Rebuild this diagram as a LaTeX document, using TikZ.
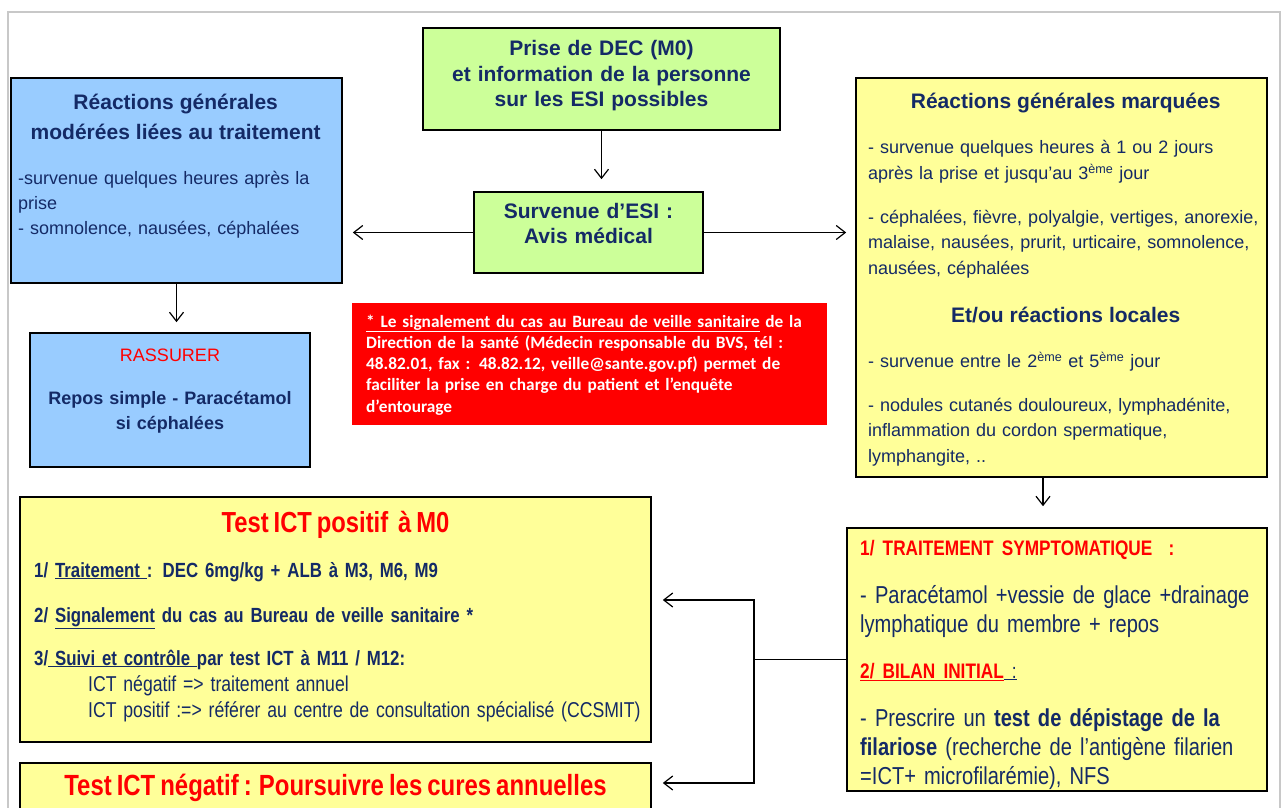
\documentclass[tikz,border=0pt]{standalone}
\usepackage{fontspec}
\setmainfont{Liberation Sans}
\newfontfamily\narrowfont[FakeStretch=0.82,WordSpace=0.75]{Liberation Sans}
\newfontfamily\calibfont{Carlito}
\usepackage{xcolor}
\usepackage{tikz}
\usetikzlibrary{arrows.meta,positioning,calc}
\definecolor{navy}{HTML}{142A66}
\definecolor{lgreen}{HTML}{CCFF99}
\definecolor{lblue}{HTML}{99CCFF}
\definecolor{lyellow}{HTML}{FFFF99}
\definecolor{alert}{HTML}{FF0000}
\definecolor{framegray}{HTML}{C8C8C8}
\newcommand{\fsz}[2]{\fontsize{#1}{#2}\selectfont}
\tikzstyle{arrow} = [line width=1.2pt,->,>={Straight Barb[length=9pt,width=14pt]}]
\tikzstyle{wire} = [line width=1.2pt]
\tikzstyle{card} = [rectangle, draw=black, line width=1.6pt, inner sep=0pt]
\tikzstyle{txt} = [inner sep=0pt, text=navy, anchor=base west, align=left]

\begin{document}
\begin{tikzpicture}[x=1pt, y=-1pt]
    \clip (0,0) rectangle (1283,808);
    \fill[white] (0,0) rectangle (1283,808);
    \draw[framegray, line width=2pt] (8,830) -- (8,12) -- (1280,12) -- (1280,830);

    % boxes
    \node[card, fill=lgreen, minimum width=357, minimum height=102] (prise) at (601.5,79) {};
    \node[card, fill=lgreen, minimum width=229, minimum height=81] (esi) at (588.5,232.5) {};
    \node[card, fill=lblue, minimum width=331, minimum height=205] (gen) at (176.5,180.5) {};
    \node[card, fill=lblue, minimum width=280, minimum height=134] (rass) at (170,400) {};
    \node[card, draw=none, fill=alert, minimum width=475, minimum height=122] (sig) at (589.5,364) {};
    \node[card, fill=lyellow, minimum width=411, minimum height=399] (marq) at (1061.5,277.5) {};
    \node[card, fill=lyellow, minimum width=631, minimum height=245] (pos) at (335.5,619.5) {};
    \node[card, fill=lyellow, minimum width=631, minimum height=80] (neg) at (335.5,803) {};
    \node[card, fill=lyellow, minimum width=420, minimum height=263] (symp) at (1057,659.5) {};

    % texts
    \node[txt, text width=357, align=center, anchor=base, font={\bfseries\fsz{21}{25.5}}] (priseT) at (601.5,56)
        {Prise de DEC (M0)\\et information de la personne\\sur les ESI possibles};
    \node[txt, text width=229, align=center, anchor=base, font={\bfseries\fsz{21}{25}}] (esiT) at (588.5,218)
        {Survenue d’ESI :\\Avis médical};
    \node[txt, text width=315, font={\fsz{18}{25}}] (genT) at (18,110)
        {{\centering\bfseries\fsz{21}{30}Réactions générales\\modérées liées au traitement\par}\vspace{20pt}%
        -survenue quelques heures après la\\prise\\- somnolence, nausées, céphalées};
    \node[txt, text width=280, align=center, anchor=base, font={\bfseries\fsz{18}{25}}] (rassT) at (170,361)
        {{\color{alert}\mdseries RASSURER\par}\vspace{18pt}Repos simple - Paracétamol\\si céphalées};
    \node[txt, text=white, text width=458, font={\calibfont\bfseries\fsz{17.3}{21.3}}] (sigT) at (366,327)
        {\underline{* Le signalement du cas au Bureau de veille sanitaire} de la\\
        Direction de la santé (Médecin responsable du BVS, tél :\\
        48.82.01, fax : 48.82.12, veille@sante.gov.pf) permet de\\
        faciliter la prise en charge du patient et l’enquête\\
        d’entourage};
    \node[txt, text width=395, font={\fsz{18}{25.5}}] (marqT) at (868,109)
        {{\centering\bfseries\fsz{21}{25.5}Réactions générales marquées\par}\vspace{19.5pt}%
        - survenue quelques heures à 1 ou 2 jours\\après la prise et jusqu’au 3\textsuperscript{ème} jour\par\vspace{18.5pt}%
        - céphalées, fièvre, polyalgie, vertiges, anorexie,\\malaise, nausées, prurit, urticaire, somnolence,\\nausées, céphalées\par\vspace{22.5pt}%
        {\centering\bfseries\fsz{21}{25.5}Et/ou réactions locales\par}\vspace{19.5pt}%
        - survenue entre le 2\textsuperscript{ème} et 5\textsuperscript{ème} jour\par\vspace{18.5pt}%
        - nodules cutanés douloureux, lymphadénite,\\inflammation du cordon spermatique,\\lymphangite, ..};
    \node[txt, text=alert, anchor=base, font={\narrowfont\bfseries\fsz{29}{30}}] (posH) at (335.5,532)
        {Test ICT positif\ \ à M0};
    \node[txt, text width=614, font={\narrowfont\bfseries\fsz{20.5}{26}}] (posT) at (34,577)
        {1/ \underline{Traitement }: DEC 6mg/kg + ALB à M3, M6, M9\par\vspace{19pt}%
        2/ \underline{Signalement} du cas au Bureau de veille sanitaire *\par\vspace{17pt}%
        3/\underline{ Suivi et contrôle }par test ICT à M11 / M12:\\
        \mdseries\fsz{21.5}{26}\hspace*{54pt}ICT négatif => traitement annuel\\
        \hspace*{54pt}ICT positif :=> référer au centre de consultation spécialisé (CCSMIT)};
    \node[txt, text=alert, anchor=base, font={\narrowfont\bfseries\fsz{29.2}{30}}] (negH) at (335.5,795)
        {Test ICT négatif : Poursuivre les cures annuelles};
    \node[txt, text width=405, font={\narrowfont\fsz{24.5}{29}}] (sympT) at (860,555)
        {{\color{alert}\bfseries\fsz{21}{25}1/ TRAITEMENT SYMPTOMATIQUE\ \ :\par}\vspace{19pt}%
        - Paracétamol +vessie de glace +drainage\\lymphatique du membre + repos\par\vspace{21pt}%
        {\bfseries\fsz{21}{25}{\color{alert}\underline{2/ BILAN INITIAL}}\underline{\mdseries\ :}\par}\vspace{19pt}%
        - Prescrire un \textbf{test de dépistage de la}\\\textbf{filariose} (recherche de l’antigène filarien\\=ICT+ microfilarémie), NFS};

    % connectors
    \draw[arrow, shorten >=12pt] (prise.south) -- (prise.south |- esi.north);
    \draw[arrow, shorten >=10pt] (esi.west) -- (esi.west -| gen.east);
    \draw[arrow, shorten >=9pt] (esi.east) -- (esi.east -| marq.west);
    \draw[arrow, shorten >=10pt] (gen.south) -- (gen.south |- rass.north);
    \draw[arrow, shorten >=21pt] ([xshift=-18.5pt]marq.south) -- ([xshift=-18.5pt]marq.south |- symp.north);
    \coordinate (split) at (754,659.5);
    \draw[wire] (symp.west) -- (split);
    \draw[arrow, shorten >=11pt] (split) |- ([yshift=19.5pt]pos.east);
    \draw[arrow, shorten >=11pt] (split) |- ([yshift=20pt]neg.east);
\end{tikzpicture}
\end{document}
